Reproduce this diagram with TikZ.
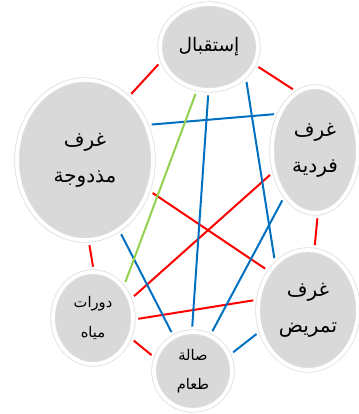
\documentclass[tikz,border=0pt]{standalone}
\usepackage{fontspec}
\usepackage{tikz}
\usetikzlibrary{shapes.geometric, shadows}
\TeXXeTstate=1
\newfontfamily\arabicfont[Script=Arabic]{DejaVu Sans}
\definecolor{roomfill}{RGB}{217,217,217}
\definecolor{roomrim}{RGB}{222,222,222}
\definecolor{linkred}{RGB}{255,0,0}
\definecolor{linkblue}{RGB}{0,112,192}
\definecolor{linkgreen}{RGB}{146,208,80}
\newcommand{\artxt}[1]{\beginR #1\endR}

\begin{document}
\begin{tikzpicture}[
    x=0.75pt, y=-0.75pt,
    room/.style={ellipse, fill=roomfill, draw=roomrim, line width=0.6pt,
        double=white, double distance=2.8pt, inner sep=0pt, outer sep=4pt,
        align=center, drop shadow={opacity=0.12, shadow xshift=1pt, shadow yshift=-1pt}},
    bigtext/.style={font=\arabicfont\fontsize{15}{27}\selectfont},
    smalltext/.style={font=\arabicfont\fontsize{11}{22}\selectfont},
    redlink/.style={draw=linkred, line width=1.5pt},
    bluelink/.style={draw=linkblue, line width=1.5pt},
    greenlink/.style={draw=linkgreen, line width=1.5pt}
]
\useasboundingbox (0,0) rectangle (358,414);

% rooms
\node[room, font=\arabicfont\fontsize{14}{20}\selectfont, minimum width=73.5pt, minimum height=64.5pt] (recep) at (209,47) {\artxt{إستقبال}};
\node[room, bigtext, minimum width=102pt, minimum height=120pt] (double) at (85,160) {\artxt{غرف}\\\artxt{مذدوجة}};
\node[room, bigtext, minimum width=64.5pt, minimum height=94.5pt] (single) at (315,150) {\artxt{غرف}\\\artxt{فردية}};
\node[room, bigtext, minimum width=75pt, minimum height=90pt] (nurse) at (308,310) {\artxt{غرف}\\\artxt{تمريض}};
\node[room, smalltext, minimum width=60pt, minimum height=69pt] (wc) at (93,318) {\artxt{دورات}\\\artxt{مياه}};
\node[room, smalltext, minimum width=58.5pt, minimum height=58.5pt] (dining) at (193,371) {\artxt{صالة}\\\artxt{طعام}};

% red links
\draw[redlink] (recep.199) -- (double.55);
\draw[redlink] (recep.338) -- (single.110);
\draw[redlink] (double.334) -- (nurse.136);
\draw[redlink] (double.273) -- (wc.90);
\draw[redlink] (single.209) -- (wc.28);
\draw[redlink] (single.272) -- (nurse.84);
\draw[redlink] (wc.359) -- (nurse.170);
\draw[redlink] (wc.331) -- (dining.159);

% blue links
\draw[bluelink] (double.28) -- (single.139);
\draw[bluelink] (recep.269) -- (dining.91);
\draw[bluelink] (recep.317) -- (nurse.123);
\draw[bluelink] (double.296) -- (dining.119);
\draw[bluelink] (single.237) -- (dining.64);
\draw[bluelink] (nurse.205) -- (dining.25);

% green link
\draw[greenlink] (recep.254) -- (wc.48);
\end{tikzpicture}
\end{document}
